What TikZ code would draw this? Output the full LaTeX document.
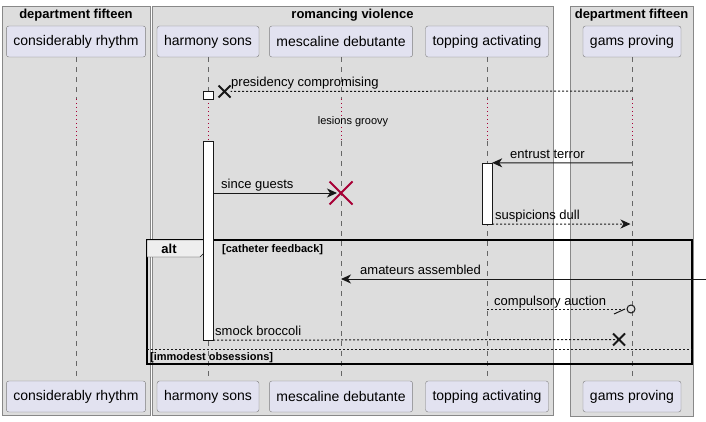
\documentclass[tikz,border=0pt]{standalone}
\usepackage{fontspec}
\setmainfont{Liberation Sans}
\usetikzlibrary{arrows.meta,shapes.misc}
\definecolor{boxfill}{HTML}{DDDDDD}
\definecolor{boxline}{HTML}{888888}
\definecolor{partfill}{HTML}{E2E2F0}
\definecolor{partline}{HTML}{7D7D7D}
\definecolor{ink}{HTML}{181818}
\definecolor{lifegray}{HTML}{666666}
\definecolor{delayred}{HTML}{A80036}
\definecolor{tabfill}{HTML}{EEEEEE}
\tikzset{
  part/.style={draw=partline, fill=partfill, rounded corners=2.5pt, minimum height=31pt,
    inner xsep=7pt, inner ysep=0pt, font=\fontsize{14}{16}\selectfont},
  boxtitle/.style={font=\fontsize{13}{15}\bfseries\selectfont, inner sep=0pt},
  lifeline/.style={lifegray, dash pattern=on 5pt off 5pt},
  delay/.style={delayred, dash pattern=on 1pt off 3pt},
  actbar/.style={draw=ink, fill=white, minimum width=10pt, inner sep=0pt},
  msg/.style={ink, line width=1pt},
  msgdash/.style={ink, line width=1pt, dash pattern=on 2pt off 2pt},
  tip/.style={-{Stealth[length=10pt,width=9pt,inset=3pt]}},
  msgtext/.style={font=\fontsize{13}{15}\selectfont, inner sep=0pt, anchor=base west},
  guard/.style={font=\fontsize{11}{13}\bfseries\selectfont, inner sep=0pt, anchor=base west},
  kill/.style={cross out, draw=ink, line width=2pt, minimum size=10pt, inner sep=0pt}
}
\begin{document}
\begin{tikzpicture}[x=1pt, y=-1pt]
    \useasboundingbox (0,0) rectangle (706,422);
    % boxes
    \draw [boxline, fill=boxfill] (2,6) rectangle (150,415);
    \draw [boxline, fill=boxfill] (152,6) rectangle (553,415);
    \draw [boxline, fill=boxfill] (570,6) rectangle (693,416);
    \path node (bxone) at (76,15) [boxtitle] {department fifteen}
          node (bxtwo) at (352.5,15) [boxtitle] {romancing violence}
          node (bxthree) at (631.5,15) [boxtitle] {department fifteen};
    % participants
    \path node (cr) at (76,41.5) [part] {considerably rhythm}
          node (hs) at (208,41.5) [part] {harmony sons}
          node (md) at (341,41.5) [part] {mescaline debutante}
          node (tp) at (487,41.5) [part] {topping activating}
          node (gp) at (632,41.5) [part] {gams proving}
          node (crf) at (76,396.5) [part] {considerably rhythm}
          node (hsf) at (208,396.5) [part] {harmony sons}
          node (mdf) at (341,396.5) [part] {mescaline debutante}
          node (tpf) at (487,396.5) [part] {topping activating}
          node (gpf) at (632,396.5) [part] {gams proving};
    % lifelines with the delay
    \foreach \p in {cr,hs,md,tp,gp} {
      \draw [lifeline] (\p.south) -- (\p |- 0,99);
      \draw [delay] (\p |- 0,99) -- (\p |- 0,141);
      \draw [lifeline] (\p |- 0,141) -- (\p f.north);
    }
    \node (delaytext) at (353,121.5) [font=\fontsize{11}{13}\selectfont, inner sep=0pt] {lesions groovy};
    % alt frame
    \draw [line width=1.5pt] (147,240) rectangle (692,364);
    \draw [ink, fill=tabfill] (147,240) -- (208,240) -- (208,249) -- (200,257) -- (147,257) -- cycle;
    \node (alt) at (169,248.5) [boxtitle] {alt};
    \node at (222,252) [guard] {[catheter feedback]};
    \draw [msgdash] (147,349) -- (692,349);
    \node at (150,360) [guard] {[immodest obsessions]};
    % activations
    \path node (actone) at (208,95) [actbar, minimum height=8pt] {}
          node (acttwo) at (208,240.5) [actbar, minimum height=199pt] {}
          node (actthree) at (487,193.5) [actbar, minimum height=61pt] {};
    \path node (xone) at (224.5,91.5) [kill] {}
          node (xred) at (341,193) [kill, draw=delayred, minimum size=21pt] {}
          node (xtwo) at (619,339.5) [kill] {}
          node (lost) at (631,309) [circle, draw=ink, line width=1pt, minimum size=8pt, inner sep=0pt] {};
    \coordinate (edge) at (706,279);
    % messages
    \draw [msgdash] (gp |- 0,91) -- (xone.east);
    \node at (231,87) [msgtext] {presidency compromising};
    \draw [msg, tip] (gp |- 0,163) -- (actthree.north east);
    \node at (510,158.5) [msgtext] {entrust terror};
    \draw [msg, tip, shorten >=4pt] (acttwo.east |- 0,193) -- (xred.center);
    \node at (221,189) [msgtext] {since guests};
    \draw [msgdash, tip, shorten >=1.5pt] (actthree.south east) -- (gp |- 0,224);
    \node at (495,219.5) [msgtext] {suspicions dull};
    \draw [msg, tip] (edge) -- (md |- 0,279);
    \node at (360,274.5) [msgtext] {amateurs assembled};
    \draw [msgdash] (tp |- 0,309) -- (lost.west);
    \draw [ink, line width=1pt] (lost.west) ++(-1.5,0) -- ++(-11,5);
    \node at (494,305) [msgtext] {compulsory auction};
    \draw [msgdash] (acttwo.south east) -- (xtwo.center);
    \node at (215,335.5) [msgtext] {smock broccoli};
\end{tikzpicture}
\end{document}
